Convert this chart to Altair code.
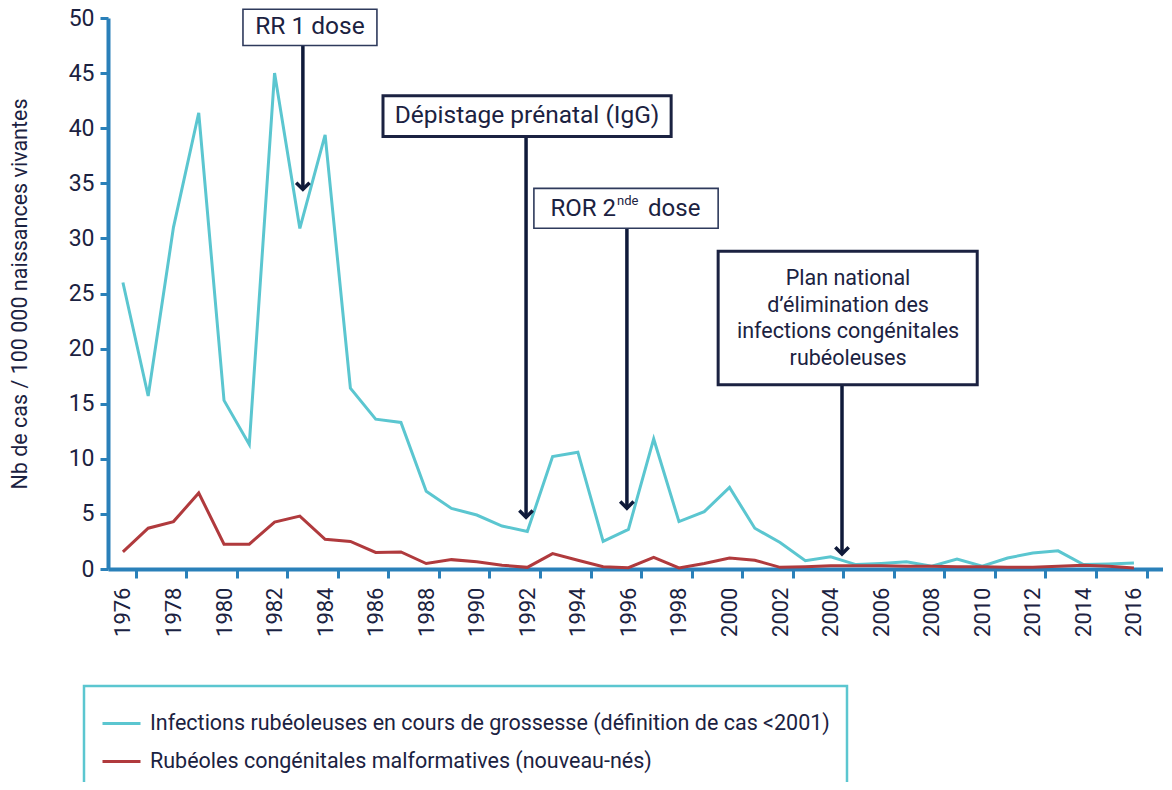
import altair as alt
import pandas as pd

# ---------------- data ----------------
years = list(range(1976, 2017))
infections = [26.0, 15.7, 31.0, 41.4, 15.3, 11.3, 45.0, 30.9, 39.4, 16.4,
              13.6, 13.3, 7.05, 5.5, 4.9, 3.9, 3.4, 10.2, 10.6, 2.5,
              3.6, 11.8, 4.3, 5.2, 7.4, 3.7, 2.4, 0.75, 1.1, 0.4,
              0.5, 0.65, 0.25, 0.9, 0.25, 1.0, 1.45, 1.65, 0.4, 0.45,
              0.55]
congenital = [1.55, 3.7, 4.3, 6.9, 2.25, 2.25, 4.25, 4.8, 2.7, 2.5,
              1.5, 1.55, 0.5, 0.85, 0.65, 0.35, 0.15, 1.4, 0.8, 0.2,
              0.12, 1.05, 0.1, 0.5, 1.0, 0.8, 0.15, 0.2, 0.3, 0.3,
              0.3, 0.25, 0.25, 0.2, 0.2, 0.15, 0.15, 0.25, 0.35, 0.25,
              0.1]
series_names = ["Infections rubéoleuses en cours de grossesse (définition de cas <2001)",
                " Rubéoles congénitales malformatives (nouveau-nés)"]
y_ticks = [0, 5, 10, 15, 20, 25, 30, 35, 40, 45, 50]

# annotations (anchored in data coordinates)
box_names = ["RR 1 dose", "Dépistage prénatal (IgG)", "ROR 2nde dose", "Plan national"]
box_x0 = [1980.75, 1986.29, 1992.26, 1999.55]
box_x1 = [1986.05, 1997.69, 1999.55, 2009.80]
box_top = [50.8, 42.95, 34.54, 28.84]
box_bottom = [47.5, 39.24, 30.92, 16.73]
box_thick = [False, True, False, True]
arrow_x = [1983.12, 1991.95, 1995.94, 2004.45]
arrow_tip = [34.45, 4.70, 5.52, 1.36]

label_text = ["RR 1 dose", "Dépistage prénatal (IgG)"]
label_x = [1983.40, 1991.99]
label_y = [49.2, 41.14]

ror_x = 1995.51
ror_y = 32.64
plan_text = "Plan national\nd’élimination des\ninfections congénitales\nrubéoleuses"
plan_x = 2004.69
plan_y = 26.31

# ---------------- styling ----------------
NAVY = "#1b2241"
ARROW = "#0f1a3a"
AXIS = "#2a80b9"
CYAN = "#5bc6d0"
RED = "#b03a3d"
FONT = "Roboto"

df = pd.DataFrame({
    "year": years * 2,
    "value": infections + congenital,
    "series": [series_names[0]] * len(years) + [series_names[1]] * len(years),
})
boxes = pd.DataFrame({"name": box_names, "x0": box_x0, "x1": box_x1,
                      "top": box_top, "bottom": box_bottom, "thick": box_thick,
                      "ax": arrow_x, "tip": arrow_tip})
labels = pd.DataFrame({"text": label_text, "x": label_x, "y": label_y})

x_scale = alt.Scale(domain=[1975.41, 2017.15], nice=False, zero=False)
y_scale = alt.Scale(domain=[0, 50], nice=False)

half = 1055 / (2017.15 - 1975.41) / 2

lines = alt.Chart(df).mark_line(strokeWidth=3).encode(
    x=alt.X("year:Q", scale=x_scale, axis=alt.Axis(
        values=years, format="d",
        labelExpr="datum.value % 2 == 0 ? datum.label : ''",
        tickOffset=half, labelOffset=-half, labelAngle=-90,
        labelFontSize=22, labelFont=FONT, labelColor=NAVY, labelPadding=9,
        labelOverlap=False, labelFlush=False,
        domainColor=AXIS, domainWidth=4, tickColor=AXIS, tickWidth=3, tickSize=9,
        grid=False, title=None)),
    y=alt.Y("value:Q", scale=y_scale, axis=alt.Axis(
        values=y_ticks, labelFontSize=23, labelFont=FONT, labelColor=NAVY,
        labelPadding=6, labelFlush=False,
        domainColor=AXIS, domainWidth=4, tickColor=AXIS, tickWidth=3, tickSize=8,
        grid=False, title="Nb de cas / 100 000 naissances vivantes",
        titleFont=FONT, titleFontSize=21.5, titleFontWeight="normal",
        titleColor=NAVY, titlePadding=37)),
    color=alt.Color("series:N", scale=alt.Scale(domain=series_names, range=[CYAN, RED]),
                    legend=alt.Legend(title=None, orient="none", legendX=-24, legendY=668,
                                      strokeColor=CYAN, padding=17,
                                      labelFont=FONT, labelFontSize=21.5, labelColor=NAVY,
                                      labelLimit=1200, labelOffset=8,
                                      symbolType="stroke", symbolSize=1444,
                                      symbolStrokeWidth=3, rowPadding=7)),
)

box_base = alt.Chart(boxes)
rects_thick = box_base.transform_filter("datum.thick").mark_rect(
    fill="white", stroke=NAVY, strokeWidth=3).encode(
    x=alt.X("x0:Q", scale=x_scale), x2="x1:Q",
    y=alt.Y("top:Q", scale=y_scale), y2="bottom:Q")
rects_thin = box_base.transform_filter("!datum.thick").mark_rect(
    fill="white", stroke="#2e3a5c", strokeWidth=1.6).encode(
    x=alt.X("x0:Q", scale=x_scale), x2="x1:Q",
    y=alt.Y("top:Q", scale=y_scale), y2="bottom:Q")

shafts = box_base.mark_rule(color=ARROW, strokeWidth=3.5).encode(
    x=alt.X("ax:Q", scale=x_scale),
    y=alt.Y("bottom:Q", scale=y_scale), y2="tip:Q")
heads = box_base.mark_point(shape="M-1,-1L0,0L1,-1", filled=False, size=180,
                            strokeWidth=3.5, color=ARROW, opacity=1,
                            strokeJoin="miter").encode(
    x=alt.X("ax:Q", scale=x_scale),
    y=alt.Y("tip:Q", scale=y_scale))

texts = alt.Chart(labels).mark_text(font=FONT, fontSize=24.5, color=NAVY,
                                   align="center", baseline="middle").encode(
    x=alt.X("x:Q", scale=x_scale),
    y=alt.Y("y:Q", scale=y_scale), text="text:N")

ror_df = pd.DataFrame({"x": [ror_x], "y": [ror_y]})
ror_main = alt.Chart(ror_df).mark_text(font=FONT, fontSize=24, color=NAVY,
                                       align="right", baseline="middle", text="ROR 2").encode(
    x=alt.X("x:Q", scale=x_scale), y=alt.Y("y:Q", scale=y_scale))
ror_sup = alt.Chart(ror_df).mark_text(font=FONT, fontSize=13, color=NAVY, dx=1, dy=-8,
                                      align="left", baseline="middle", text="nde").encode(
    x=alt.X("x:Q", scale=x_scale), y=alt.Y("y:Q", scale=y_scale))
ror_dose = alt.Chart(ror_df).mark_text(font=FONT, fontSize=24, color=NAVY, dx=32,
                                       align="left", baseline="middle", text="dose").encode(
    x=alt.X("x:Q", scale=x_scale), y=alt.Y("y:Q", scale=y_scale))

plan_df = pd.DataFrame({"x": [plan_x], "y": [plan_y], "t": [plan_text]})
plan = alt.Chart(plan_df).mark_text(font=FONT, fontSize=21.5, color=NAVY, lineBreak="\n",
                                    lineHeight=26.5, align="center", baseline="middle").encode(
    x=alt.X("x:Q", scale=x_scale), y=alt.Y("y:Q", scale=y_scale),
    text="t:N")

chart = alt.layer(
    lines, shafts, heads, rects_thick, rects_thin, texts, ror_main, ror_sup, ror_dose, plan
).properties(
    width=1055, height=551,
    autosize=alt.AutoSizeParams(type="none"),
    padding={"left": 100, "top": 10, "right": 0, "bottom": 213},
).configure_view(stroke=None).configure_legend(strokeWidth=2.5)

chart.save("out.html", embed_options={"renderer": "svg", "actions": False})
